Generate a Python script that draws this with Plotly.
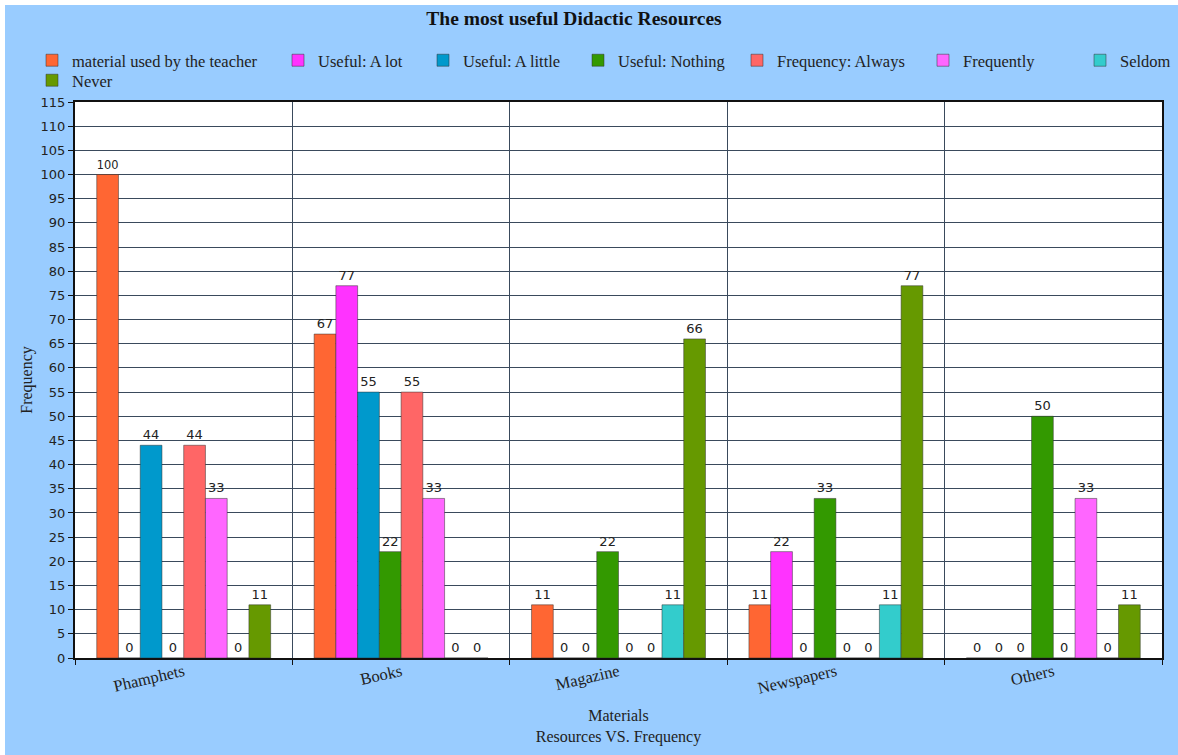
import plotly.graph_objects as go

categories = ["Phamphets", "Books", "Magazine", "Newspapers", "Others"]
series_names = ["material used by the teacher", "Useful: A lot", "Useful: A little",
                "Useful: Nothing", "Frequency: Always", "Frequently", "Seldom", "Never"]
teacher = [100, 67, 11, 11, 0]
a_lot = [0, 77, 0, 22, 0]
a_little = [44, 55, 0, 0, 0]
nothing = [0, 22, 22, 33, 50]
always = [44, 55, 0, 0, 0]
frequently = [33, 33, 0, 0, 33]
seldom = [0, 0, 11, 11, 0]
never = [11, 0, 66, 77, 11]
series_values = [teacher, a_lot, a_little, nothing, always, frequently, seldom, never]
colors = ["#FF6633", "#FF33FF", "#0099CC", "#339900", "#FF6666", "#FF66FF", "#33CCCC", "#669900"]
y_ticks = list(range(0, 116, 5))

SERIF = "Liberation Serif"
SANS = "DejaVu Sans"
W, H = 1173, 750

# legend entry placement (layout only): left edge of each entry, row index
legend_left = [27, 273, 418, 573, 732, 918, 1075, 27]
legend_row = [0, 0, 0, 0, 0, 0, 0, 1]
row_top = [38, 58]

fig = go.Figure()
for i, (name, vals, col) in enumerate(zip(series_names, series_values, colors)):
    fig.add_trace(go.Bar(
        x=categories, y=vals, name=name,
        legend="legend" if i == 0 else f"legend{i + 1}",
        marker=dict(color=col, line=dict(color="rgba(50,50,50,0.5)", width=1)),
        text=[str(v) for v in vals], textposition="outside", textangle=0,
        textfont=dict(family=SANS, size=13, color="#222222"),
        cliponaxis=False,
    ))

legends = {}
for i in range(len(series_names)):
    key = "legend" if i == 0 else f"legend{i + 1}"
    legends[key] = dict(
        orientation="h", xref="container", yref="container",
        x=legend_left[i] / W, xanchor="left",
        y=1 - row_top[legend_row[i]] / H, yanchor="top",
        font=dict(size=16.5, family=SERIF, color="#222"),
        itemwidth=30, bgcolor="rgba(0,0,0,0)", borderwidth=0,
    )

fig.update_layout(
    width=W, height=H,
    paper_bgcolor="#99CCFF", plot_bgcolor="#FFFFFF",
    barmode="group", bargap=0.2, bargroupgap=0,
    font=dict(family=SERIF, size=14, color="#222222"),
    title=dict(text="<b>The most useful Didactic Resources</b>", x=569 / W, xanchor="center",
               xref="container", yref="container", y=1 - 13 / H, yanchor="middle",
               font=dict(size=19.5, family=SERIF, color="#111")),
    margin=dict(l=70, r=16, t=97, b=97, autoexpand=False),
    showlegend=True,
    **legends,
)

fig.update_xaxes(
    type="category", tickson="boundaries", showgrid=True, gridcolor="#3A4A5C", gridwidth=1,
    showline=True, linecolor="#111111", linewidth=2, mirror=True,
    ticks="outside", ticklen=5, tickcolor="#111", automargin=False,
    tickangle=-13, ticklabelstandoff=-4, tickfont=dict(size=16.5, family=SERIF, color="#222"),
    title=dict(text="Materials<br>Resources VS. Frequency",
               font=dict(size=16, family=SERIF, color="#222"), standoff=13),
)
fig.update_yaxes(
    range=[0, 115], tickvals=y_ticks, showgrid=True, gridcolor="#3A4A5C", gridwidth=1,
    showline=True, linecolor="#111111", linewidth=2, mirror=True,
    ticks="outside", ticklen=5, tickcolor="#111", automargin=False,
    tickfont=dict(size=13, family=SANS, color="#222"),
    title=dict(text="Frequency", font=dict(size=16, family=SERIF, color="#222"), standoff=4),
    zeroline=False,
)

fig.write_html("out.html", post_script="document.body.style.margin='5px 0 0 5px';")
